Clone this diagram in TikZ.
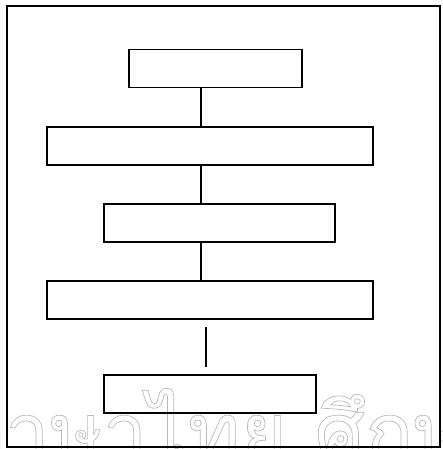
\documentclass[tikz,border=0pt]{standalone}
\usepackage{fontspec}
\usepackage{xcolor}
\usetikzlibrary{positioning}
\newfontfamily\thaifont[Script=Thai]{Loma}
\definecolor{markgray}{RGB}{185,185,185}
\newcommand{\outlinetext}[1]{\special{pdf:literal direct 1 Tr 0.7 w}#1\special{pdf:literal direct 0 Tr}}

\tikzset{
  flowbox/.style={draw, line width=1.4pt, inner sep=0pt, minimum height=38},
  link/.style={line width=1.4pt},
  marktext/.style={anchor=base west, inner sep=0pt, text=markgray, font=\thaifont\fontsize{80}{80}\selectfont},
}

\begin{document}
\begin{tikzpicture}[x=1pt, y=-1pt]
        \useasboundingbox (0,0) rectangle (442,449);
        % Watermark — outlined grey letters, cut by the page edge
        \begin{scope}
          \clip (0,0) rectangle (442,449);
          \node[marktext] (mark) at (-48,460) {\outlinetext{ภาษาไทย ศึกษา}};
        \end{scope}
        % Frame
        \draw[link] (7,6) rectangle (440,447);
        % Boxes
        \node[flowbox, minimum width=173] (s1) at (215.5,68.5) {};
        \node[flowbox, minimum width=326] (s2) at (210,146) {};
        \node[flowbox, minimum width=231] (s3) at (219.5,223) {};
        \node[flowbox, minimum width=326] (s4) at (210,300) {};
        \node[flowbox, minimum width=212] (s5) at (210,394) {};
        % Links
        \coordinate (spine) at (201,0);
        \draw[link] (s1.south -| spine) -- (s2.north -| spine);
        \draw[link] (s2.south -| spine) -- (s3.north -| spine);
        \draw[link] (s3.south -| spine) -- (s4.north -| spine);
        % Loose stroke between the last two boxes
        \coordinate (tickTop) at (206,327);
        \coordinate (tickBot) at (206,367);
        \draw[link] (tickTop) -- (tickBot);
      \end{tikzpicture}
\end{document}
